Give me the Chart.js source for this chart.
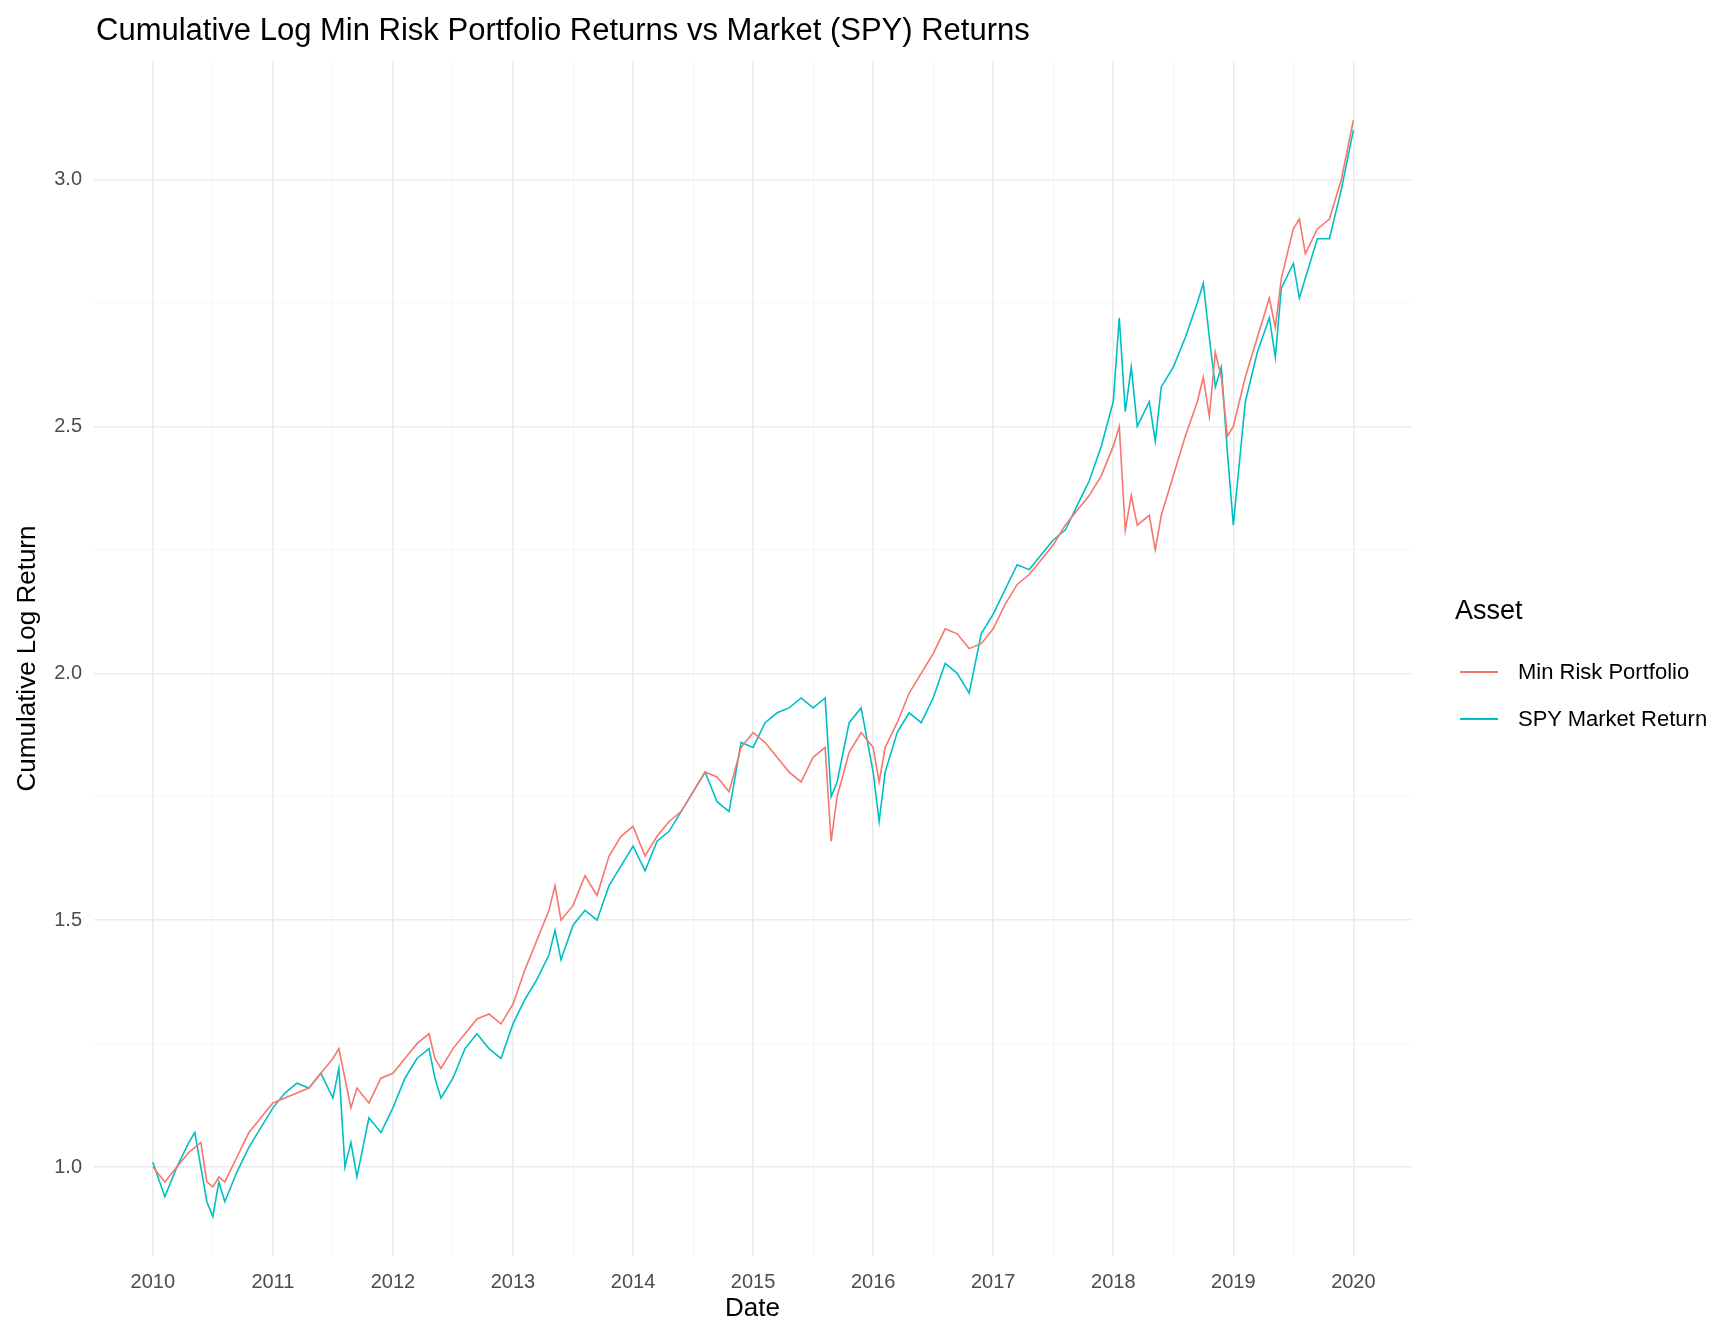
<!DOCTYPE html>
<html><head><meta charset="utf-8">
<script src="https://cdn.jsdelivr.net/npm/chart.js@4"></script>
<style>
body{margin:0;background:#fff;font-family:"Liberation Sans",Arial,sans-serif}
#wrap{position:relative;width:1728px;height:1344px}
#title{position:absolute;left:96px;top:12px;font-size:31px;color:#000}
#legend{position:absolute;left:1455px;top:595px;font-size:22px;color:#000}
#legend .h{font-size:27px;margin-bottom:22px}
#legend .row{display:flex;align-items:center;height:47px}
#legend .sw{width:38px;height:2px;margin:0 20px 0 5px}
</style></head>
<body><div id="wrap">
<canvas id="grafico" width="1728" height="1344"></canvas>
<div id="title">Cumulative Log Min Risk Portfolio Returns vs Market (SPY) Returns</div>
<div id="legend">
  <div class="h">Asset</div>
  <div class="row"><div class="sw" style="background:#F8766D"></div>Min Risk Portfolio</div>
  <div class="row"><div class="sw" style="background:#00BFC4"></div>SPY Market Return</div>
</div>
</div>
<script>
const datas = [2010.0,2010.1,2010.2,2010.3,2010.35,2010.4,2010.45,2010.5,2010.55,2010.6,2010.7,2010.8,2010.9,
2011.0,2011.1,2011.2,2011.3,2011.4,2011.5,2011.55,2011.6,2011.65,2011.7,2011.8,2011.9,
2012.0,2012.1,2012.2,2012.3,2012.35,2012.4,2012.5,2012.6,2012.7,2012.8,2012.9,
2013.0,2013.1,2013.2,2013.3,2013.35,2013.4,2013.5,2013.6,2013.7,2013.8,2013.9,
2014.0,2014.1,2014.2,2014.3,2014.4,2014.5,2014.6,2014.7,2014.8,2014.9,
2015.0,2015.1,2015.2,2015.3,2015.4,2015.5,2015.6,2015.65,2015.7,2015.8,2015.9,
2016.0,2016.05,2016.1,2016.2,2016.3,2016.4,2016.5,2016.6,2016.7,2016.8,2016.9,
2017.0,2017.1,2017.2,2017.3,2017.4,2017.5,2017.6,2017.7,2017.8,2017.9,
2018.0,2018.05,2018.1,2018.15,2018.2,2018.3,2018.35,2018.4,2018.5,2018.6,2018.7,2018.75,2018.8,2018.85,2018.9,2018.95,
2019.0,2019.1,2019.2,2019.3,2019.35,2019.4,2019.5,2019.55,2019.6,2019.7,2019.8,2019.9,2020.0];

const minRisk = [1.00,0.97,1.00,1.03,1.04,1.05,0.97,0.96,0.98,0.97,1.02,1.07,1.10,
1.13,1.14,1.15,1.16,1.19,1.22,1.24,1.18,1.12,1.16,1.13,1.18,
1.19,1.22,1.25,1.27,1.22,1.20,1.24,1.27,1.30,1.31,1.29,
1.33,1.40,1.46,1.52,1.57,1.50,1.53,1.59,1.55,1.63,1.67,
1.69,1.63,1.67,1.70,1.72,1.76,1.80,1.79,1.76,1.85,
1.88,1.86,1.83,1.80,1.78,1.83,1.85,1.66,1.75,1.84,1.88,
1.85,1.78,1.85,1.90,1.96,2.00,2.04,2.09,2.08,2.05,2.06,
2.09,2.14,2.18,2.20,2.23,2.26,2.30,2.33,2.36,2.40,
2.46,2.50,2.29,2.36,2.30,2.32,2.25,2.32,2.40,2.48,2.55,2.60,2.52,2.65,2.60,2.48,
2.50,2.60,2.68,2.76,2.70,2.80,2.90,2.92,2.85,2.90,2.92,3.00,3.12];

const spy = [1.01,0.94,1.00,1.05,1.07,1.00,0.93,0.90,0.97,0.93,0.99,1.04,1.08,
1.12,1.15,1.17,1.16,1.19,1.14,1.20,1.00,1.05,0.98,1.10,1.07,
1.12,1.18,1.22,1.24,1.18,1.14,1.18,1.24,1.27,1.24,1.22,
1.29,1.34,1.38,1.43,1.48,1.42,1.49,1.52,1.50,1.57,1.61,
1.65,1.60,1.66,1.68,1.72,1.76,1.80,1.74,1.72,1.86,
1.85,1.90,1.92,1.93,1.95,1.93,1.95,1.75,1.78,1.90,1.93,
1.80,1.70,1.80,1.88,1.92,1.90,1.95,2.02,2.00,1.96,2.08,
2.12,2.17,2.22,2.21,2.24,2.27,2.29,2.34,2.39,2.46,
2.55,2.72,2.53,2.62,2.50,2.55,2.47,2.58,2.62,2.68,2.75,2.79,2.68,2.58,2.62,2.45,
2.30,2.55,2.65,2.72,2.64,2.78,2.83,2.76,2.80,2.88,2.88,2.98,3.10];

const ctx = document.getElementById('grafico').getContext('2d');
new Chart(ctx, {
    type: 'line',
    data: {
        datasets: [
            { label: 'Min Risk Portfolio', data: datas.map((d, i) => ({x: d, y: minRisk[i]})), borderColor: '#F8766D', borderWidth: 1.6, pointRadius: 0, fill: false },
            { label: 'SPY Market Return', data: datas.map((d, i) => ({x: d, y: spy[i]})), borderColor: '#00BFC4', borderWidth: 1.6, pointRadius: 0, fill: false }
        ]
    },
    options: {
        responsive: false,
        animation: false,
        layout: { padding: { top: 61, right: 317, left: 12, bottom: 20 } },
        plugins: { legend: { display: false }, tooltip: { enabled: false } },
        scales: {
            x: {
                type: 'linear', min: 2009.51, max: 2020.48,
                afterBuildTicks: s => { s.ticks = []; for (let v = 2010; v <= 2020; v += 0.5) s.ticks.push({value: v}); },
                ticks: { autoSkip: false, maxRotation: 0, color: '#4d4d4d', padding: 14, font: { size: 20, family: 'Liberation Sans' },
                    callback: v => Number.isInteger(v) ? String(v) : '' },
                grid: { color: c => Number.isInteger(c.tick.value) ? '#ebebeb' : '#f4f4f4', lineWidth: c => Number.isInteger(c.tick.value) ? 1.6 : 0.9, drawTicks: false },
                border: { display: false },
                title: { display: true, text: 'Date', color: '#000', font: { size: 26, family: 'Liberation Sans' }, padding: 0 },
                afterFit: s => { s.height = 68; }
            },
            y: {
                min: 0.82, max: 3.24,
                afterBuildTicks: s => { s.ticks = []; for (let v = 1.0; v <= 3.01; v += 0.25) s.ticks.push({value: Math.round(v * 100) / 100}); },
                ticks: { color: '#4d4d4d', font: { size: 20, family: 'Liberation Sans' }, padding: 12,
                    callback: v => (Math.round(v * 100) % 50 === 0) ? v.toFixed(1) : '' },
                grid: { color: c => (Math.round(c.tick.value * 100) % 50 === 0) ? '#ebebeb' : '#f4f4f4', lineWidth: c => (Math.round(c.tick.value * 100) % 50 === 0) ? 1.6 : 0.9, drawTicks: false },
                border: { display: false },
                title: { display: true, text: 'Cumulative Log Return', color: '#000', font: { size: 26, family: 'Liberation Sans' }, padding: 0 },
                afterFit: s => { s.width = 82; }
            }
        }
    }
});
</script>
</body></html>
